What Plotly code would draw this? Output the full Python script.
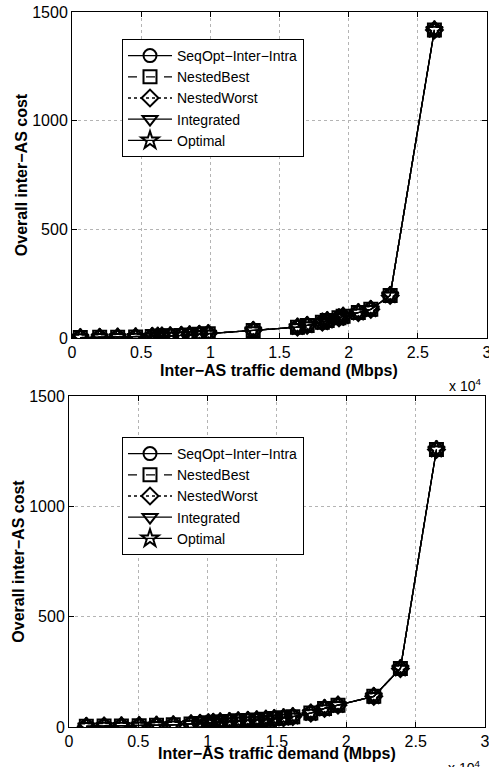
import plotly.graph_objects as go

# upper panel: demand (Mbps) and cost
demand_top = [600, 2000, 3300, 4600, 5800, 6200, 6500, 7100, 7900, 8500, 9200, 9850,
              13100, 16300, 17000, 18100, 18450, 19300, 19600, 20700, 21600, 23000, 26200]
cost_top = [2, 3, 4, 5, 7, 8, 9, 10, 12, 14, 17, 20,
            35, 50, 58, 73, 80, 93, 100, 117, 132, 196, 1418]

# lower panel
demand_bot = [1250, 2530, 3780, 5060, 6310, 7520, 8800, 9450, 10050, 10400, 10900, 11570,
              12200, 12900, 13540, 14200, 14800, 15470, 16140, 17440, 18430, 19400, 21980, 23900, 26500]
cost_bot = [3, 4, 5, 6, 8, 10, 14, 16, 19, 21, 23, 25,
            28, 30, 32, 35, 38, 42, 47, 63, 84, 99, 139, 265, 1258]

series_names = ["SeqOpt−Inter−Intra", "NestedBest", "NestedWorst", "Integrated", "Optimal"]
series_symbols = ["circle-open", "square-open", "diamond-open", "triangle-down-open", "star-open"]
series_dash = ["solid", "dash", "dot", "solid", "solid"]

x_ticks = [0, 5000, 10000, 15000, 20000, 25000, 30000]
x_ticklabels = ["0", "0.5", "1", "1.5", "2", "2.5", "3"]
y_ticks = [0, 500, 1000, 1500]

FONT = "Liberation Sans, Arial, Helvetica, sans-serif"
W, H = 489, 767
X_TITLE = "<b>Inter−AS traffic demand (Mbps)</b>"
Y_TITLE = "<b>Overall inter−AS cost</b>"

def px_x(v):
    return v / W

def px_y(v):
    return 1 - v / H

fig = go.Figure()

panels = [
    (demand_top, cost_top, "x", "y", "legend"),
    (demand_bot, cost_bot, "x2", "y2", "legend2"),
]
for xs, ys, xa, ya, lg in panels:
    for name, sym, dash in zip(series_names, series_symbols, series_dash):
        fig.add_trace(go.Scatter(
            x=xs, y=ys, name=name, xaxis=xa, yaxis=ya, legend=lg,
            mode="lines+markers",
            line=dict(color="black", width=1.3, dash=dash),
            marker=dict(symbol=sym, size=13, color="black", line=dict(color="black", width=2)),
        ))

axis_common = dict(
    showline=True, linecolor="black", linewidth=1, mirror="ticks",
    ticks="inside", ticklen=5, tickcolor="black",
    showgrid=True, gridcolor="#b4b4b4", griddash="dot", gridwidth=1,
    zeroline=False, automargin=False, ticklabeloverflow="allow",
    tickfont=dict(family=FONT, size=16, color="black"),
)
xaxis_common = dict(axis_common, range=[0, 30001], tickvals=x_ticks, ticktext=x_ticklabels)
yaxis_common = dict(axis_common, range=[0, 1500.5], tickvals=y_ticks,
                    title=dict(text=Y_TITLE, standoff=0,
                               font=dict(family=FONT, size=16, color="black")))

legend_common = dict(
    xanchor="left", yanchor="top",
    bgcolor="white", bordercolor="black", borderwidth=1,
    font=dict(family=FONT, size=14, color="black"),
    tracegroupgap=0, itemsizing="trace", itemwidth=44,
)

title_font = dict(family=FONT, size=16, color="black")

fig.update_layout(
    width=W, height=H,
    margin=dict(l=0, r=0, t=0, b=0, autoexpand=False),
    paper_bgcolor="white", plot_bgcolor="white",
    font=dict(family=FONT, size=16, color="black"),
    xaxis=dict(xaxis_common, domain=[px_x(72), px_x(487)], anchor="y"),
    yaxis=dict(yaxis_common, domain=[px_y(338), px_y(12)], anchor="x"),
    xaxis2=dict(xaxis_common, domain=[px_x(69), px_x(485)], anchor="y2"),
    yaxis2=dict(yaxis_common, domain=[px_y(727), px_y(396)], anchor="x2"),
    legend=dict(legend_common, x=px_x(122), y=px_y(39)),
    legend2=dict(legend_common, x=px_x(122), y=px_y(437)),
    annotations=[
        dict(text=X_TITLE, xref="paper", yref="paper", x=px_x(279), y=px_y(370),
             xanchor="center", yanchor="middle", showarrow=False, font=title_font),
        dict(text=X_TITLE, xref="paper", yref="paper", x=px_x(277), y=px_y(753),
             xanchor="center", yanchor="middle", showarrow=False, font=title_font),
        dict(text="x 10<sup>4</sup>", xref="paper", yref="paper", x=px_x(447), y=px_y(374),
             xanchor="left", yanchor="top", showarrow=False,
             font=dict(family=FONT, size=14, color="black")),
        dict(text="x 10<sup>4</sup>", xref="paper", yref="paper", x=px_x(446), y=px_y(756),
             xanchor="left", yanchor="top", showarrow=False,
             font=dict(family=FONT, size=14, color="black")),
    ],
)

# page body has a default 8px margin; drop it so the figure sits at the window corner
fig.write_html("out.html", config={"displayModeBar": False},
               post_script="document.body.style.margin='0';")
